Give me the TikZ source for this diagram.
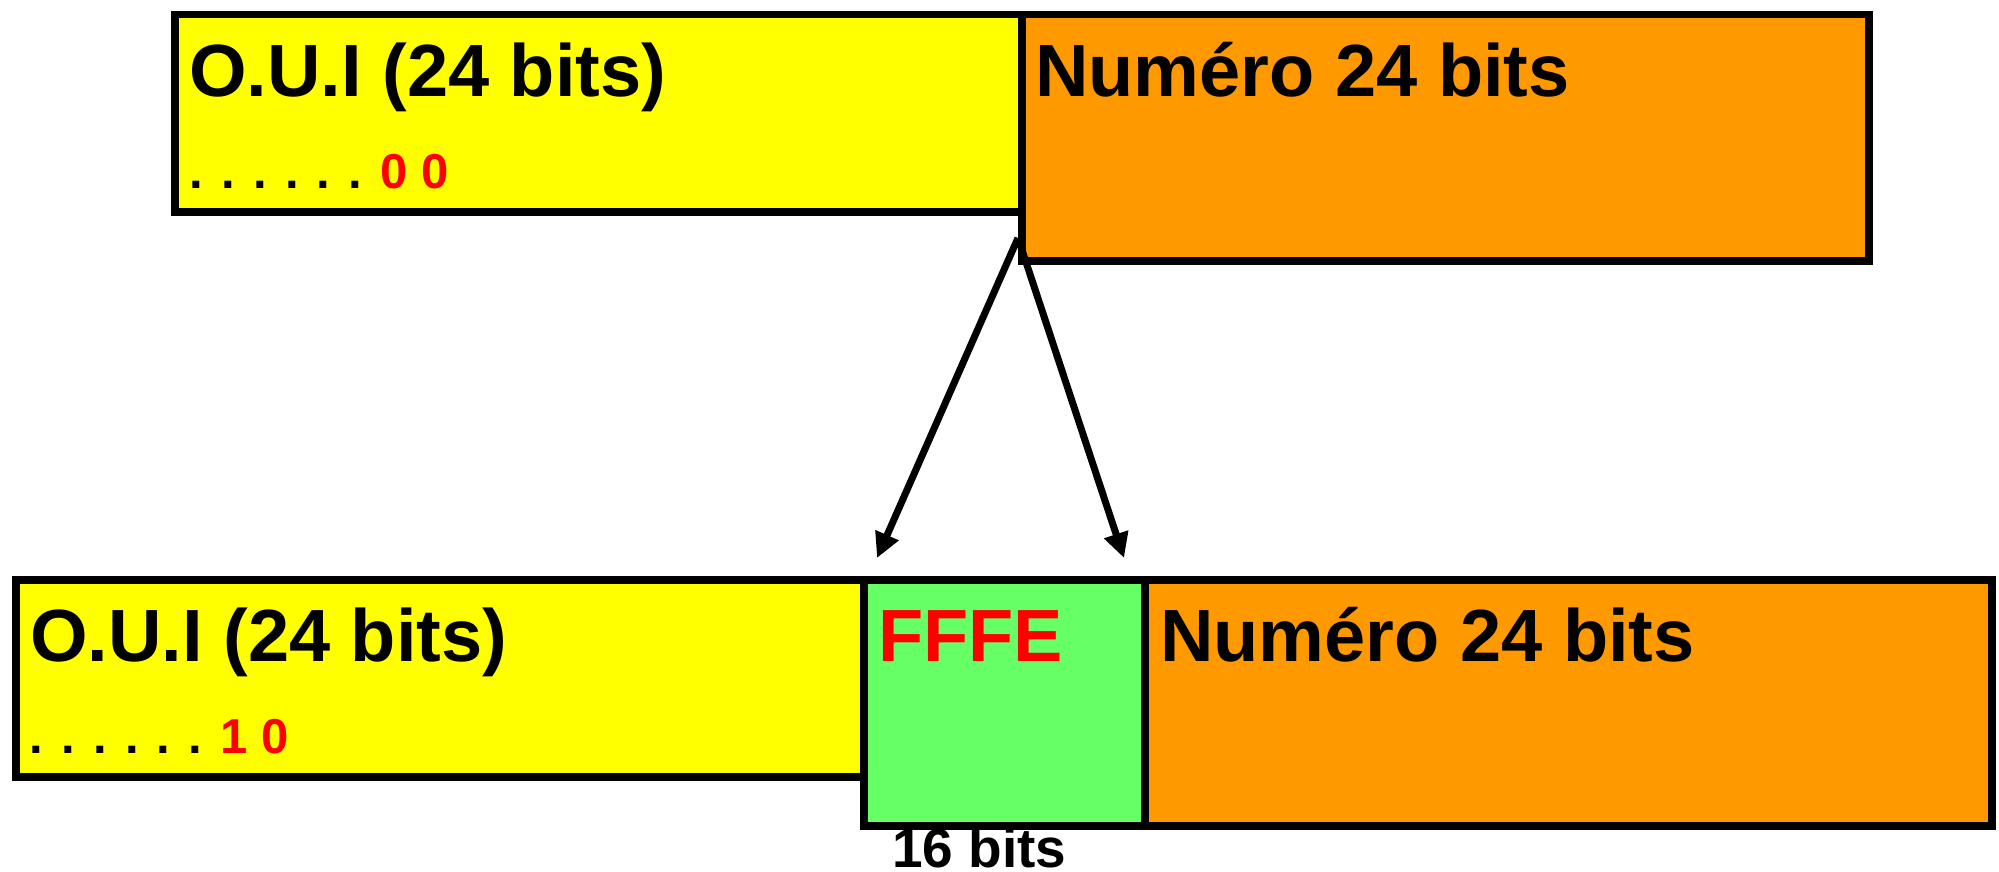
\documentclass[tikz,border=0pt]{standalone}
\usepackage{fontspec}
\setmainfont{Liberation Sans}
\usetikzlibrary{arrows.meta}
\definecolor{oyellow}{RGB}{255,255,0}
\definecolor{oorange}{RGB}{255,153,0}
\definecolor{ogreen}{RGB}{102,255,102}
\definecolor{ored}{RGB}{255,0,0}
\tikzset{
  field/.style={draw=black, line width=7.5pt, inner sep=0pt, anchor=north west, rectangle},
  bigtxt/.style={inner sep=0pt, anchor=base west, font=\bfseries\fontsize{74}{80}\selectfont},
  dottxt/.style={inner sep=0pt, anchor=base west, font=\bfseries\fontsize{49}{54}\selectfont},
  smalltxt/.style={inner sep=0pt, anchor=base west, font=\bfseries\fontsize{55}{60}\selectfont},
  conn/.style={line width=7pt, -{Triangle[length=25pt,width=24pt]}}
}
\begin{document}
\begin{tikzpicture}[x=1pt,y=-1pt]
\useasboundingbox[fill=white] (0,0) rectangle (1999,872);
% top row
\node[field, fill=oyellow, minimum width=847pt, minimum height=197pt] (topoui) at (171,11) {};
\node[field, fill=oorange, minimum width=847pt, minimum height=246pt] (topnum) at (1018,11) {};
\node[bigtxt] (topouitxt) at (189,97) {O.U.I (24 bits)};
\node[dottxt] (topdots) at (189.5,188) {. . . . . . \textcolor{ored}{0 0}};
\node[bigtxt] (topnumtxt) at (1035,97) {Numéro 24 bits};
% bottom row
\node[field, fill=oyellow, minimum width=848pt, minimum height=197pt] (botoui) at (12,576) {};
\node[field, fill=ogreen, minimum width=281pt, minimum height=246pt] (fffe) at (860,576) {};
\node[field, fill=oorange, minimum width=847pt, minimum height=246pt] (botnum) at (1141,576) {};
\node[bigtxt] (botouitxt) at (30,661) {O.U.I (24 bits)};
\node[dottxt] (botdots) at (29.5,753) {. . . . . . \textcolor{ored}{1 0}};
\node[bigtxt, text=ored] (fffetxt) at (878,661) {FFFE};
\node[bigtxt] (botnumtxt) at (1160,661) {Numéro 24 bits};
\node[smalltxt] (sixteen) at (892,867) {16 bits};
% connectors
\coordinate (apex) at (1018,238);
\coordinate (tipL) at (877,558);
\coordinate (tipR) at (1124,558);
\draw[conn] (apex) -- (tipL);
\draw[conn] (apex) -- (tipR);
\end{tikzpicture}
\end{document}
